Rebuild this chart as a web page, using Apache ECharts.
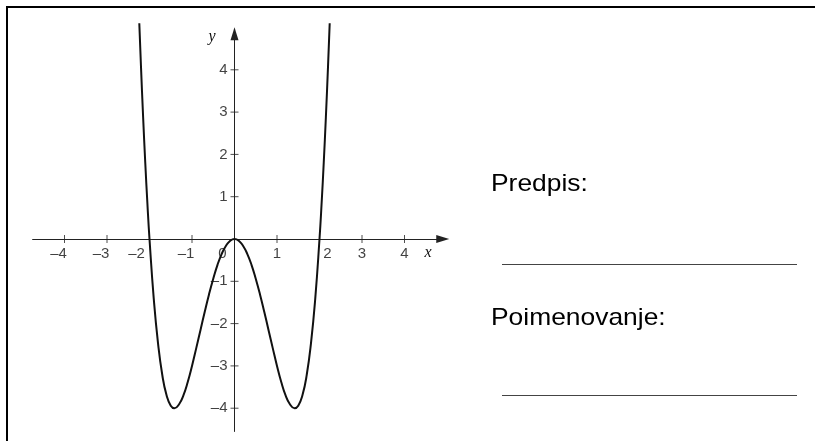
<!DOCTYPE html>
<html>
<head>
<meta charset="utf-8">
<script src="https://cdn.jsdelivr.net/npm/echarts@6/dist/echarts.min.js"></script>
<style>
  html, body { margin: 0; padding: 0; background: #fff; }
  #chart { width: 815px; height: 441px; }
</style>
</head>
<body>
<div id="chart"></div>
<script>
// Points along the plotted curve (x, y)
const curveX = [-2.24, -2.2, -2.15, -2.1, -2.05, -2.0, -1.9, -1.8, -1.7, -1.6, -1.5, -1.414, -1.3, -1.2, -1.1, -1.0,
                -0.9, -0.8, -0.7, -0.6, -0.5, -0.4, -0.3, -0.2, -0.1, 0,
                0.1, 0.2, 0.3, 0.4, 0.5, 0.6, 0.7, 0.8, 0.9, 1.0, 1.1, 1.2, 1.3, 1.414, 1.5, 1.6, 1.7, 1.8, 1.9,
                2.0, 2.05, 2.1, 2.15, 2.2, 2.24];
const curveY = [5.1, 4.07, 2.88, 1.81, 0.85, 0, -1.41, -2.46, -3.21, -3.69, -3.94, -4.0, -3.9, -3.69, -3.38, -3.0,
                -2.58, -2.15, -1.72, -1.31, -0.94, -0.61, -0.35, -0.16, -0.04, 0,
                -0.04, -0.16, -0.35, -0.61, -0.94, -1.31, -1.72, -2.15, -2.58, -3.0, -3.38, -3.69, -3.9, -4.0, -3.94, -3.69, -3.21, -2.46, -1.41,
                0, 0.85, 1.81, 2.88, 4.07, 5.1];

// Axis ticks and their labels
const xTickValues = [-4, -3, -2, -1, 1, 2, 3, 4];
const xTickLabels = ['\u20134', '\u20133', '\u20132', '\u20131', '1', '2', '3', '4'];
const yTickValues = [-4, -3, -2, -1, 1, 2, 3, 4];
const yTickLabels = ['\u20134', '\u20133', '\u20132', '\u20131', '1', '2', '3', '4'];
const originLabel = '0';
const axisNames = ['x', 'y'];
const formFields = ['Predpis:', 'Poimenovanje:'];

// Layout: pixel scale of one unit and where the origin sits
const unitX = 42.5, unitY = 42.3;
const origin = [234.5, 239];
const view = { xMin: -4.75, xMax: 4.9, yMin: -4.55, yMax: 4.85 };

// Horizontal nudges for x labels (negatives sit left of their tick)
function xNudge(v) {
  if (v === -2) return -13;
  if (v === 2) return 8;
  if (v < 0) return -6;
  return 0;
}

const sansFont = '"Liberation Sans", Arial, sans-serif';
const serifFont = '"Liberation Serif", "Times New Roman", serif';
const axisColor = '#222';
const labelStyle = { fontFamily: sansFont, fontSize: 15, color: '#111' };

const chart = echarts.init(document.getElementById('chart'), null, { renderer: 'canvas' });

const option = {
  animation: false,
  backgroundColor: '#fff',
  grid: {
    left: origin[0] + view.xMin * unitX,
    width: (view.xMax - view.xMin) * unitX,
    top: origin[1] - view.yMax * unitY,
    height: (view.yMax - view.yMin) * unitY,
    containLabel: false
  },
  xAxis: {
    type: 'value',
    min: view.xMin,
    max: view.xMax,
    axisLine: {
      onZero: true,
      symbol: ['none', 'triangle'],
      symbolSize: [8, 13],
      lineStyle: { color: axisColor, width: 1 }
    },
    axisTick: { show: false },
    axisLabel: { show: false },
    splitLine: { show: false }
  },
  yAxis: {
    type: 'value',
    min: view.yMin,
    max: view.yMax,
    axisLine: {
      onZero: true,
      symbol: ['none', 'triangle'],
      symbolSize: [8, 13],
      lineStyle: { color: axisColor, width: 1 }
    },
    axisTick: { show: false },
    axisLabel: { show: false },
    splitLine: { show: false }
  },
  series: [
    {
      name: 'xTicks',
      type: 'scatter',
      silent: true,
      symbol: 'rect',
      symbolSize: [1, 8],
      itemStyle: { color: axisColor },
      data: xTickValues.map((v, i) => ({
        value: [v, 0],
        label: {
          show: true,
          position: 'bottom',
          distance: 3,
          offset: [xNudge(v), 0],
          formatter: () => xTickLabels[i]
        }
      })),
      label: labelStyle,
      z: 2
    },
    {
      name: 'yTicks',
      type: 'scatter',
      silent: true,
      symbol: 'rect',
      symbolSize: [8, 1],
      itemStyle: { color: axisColor },
      data: yTickValues.map((v, i) => ({
        value: [0, v],
        label: {
          show: true,
          position: 'left',
          distance: 3,
          formatter: () => yTickLabels[i]
        }
      })),
      label: labelStyle,
      z: 2
    },
    {
      name: 'origin',
      type: 'scatter',
      silent: true,
      symbolSize: 1,
      itemStyle: { color: 'rgba(0,0,0,0)' },
      data: [[0, 0]],
      label: Object.assign({
        show: true,
        position: 'bottom',
        distance: 7,
        offset: [-12, 0],
        formatter: () => originLabel
      }, labelStyle),
      z: 2
    },
    {
      name: 'curve',
      type: 'line',
      silent: true,
      smooth: true,
      clip: false,
      showSymbol: false,
      lineStyle: { color: '#111', width: 2 },
      data: curveX.map((x, i) => [x, curveY[i]]),
      z: 5
    }
  ],
  graphic: [
    // frame edges
    { type: 'line', shape: { x1: 7, y1: 7, x2: 815, y2: 7 }, style: { stroke: '#000', lineWidth: 2 } },
    { type: 'line', shape: { x1: 7, y1: 6, x2: 7, y2: 441 }, style: { stroke: '#000', lineWidth: 2 } },
    // axis names
    { type: 'text', x: 428, y: 253, style: { text: axisNames[0], font: 'italic 16px ' + serifFont, fill: '#111', align: 'center', verticalAlign: 'middle' } },
    { type: 'text', x: 212, y: 37, style: { text: axisNames[1], font: 'italic 16px ' + serifFont, fill: '#111', align: 'center', verticalAlign: 'middle' } },
    // answer fields
    { type: 'text', x: 491, y: 184, scaleX: 1.1, style: { text: formFields[0], font: '24px ' + sansFont, fill: '#000', align: 'left', verticalAlign: 'middle' } },
    { type: 'line', shape: { x1: 502, y1: 264.5, x2: 797, y2: 264.5 }, style: { stroke: '#444', lineWidth: 1 } },
    { type: 'text', x: 491, y: 318, scaleX: 1.1, style: { text: formFields[1], font: '24px ' + sansFont, fill: '#000', align: 'left', verticalAlign: 'middle' } },
    { type: 'line', shape: { x1: 502, y1: 395.5, x2: 797, y2: 395.5 }, style: { stroke: '#444', lineWidth: 1 } }
  ]
};

chart.setOption(option);
</script>
</body>
</html>
